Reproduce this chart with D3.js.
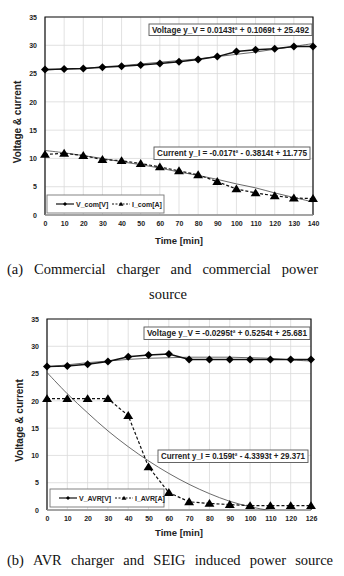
<!DOCTYPE html>
<html>
<head>
<meta charset="utf-8">
<script src="https://cdn.jsdelivr.net/npm/d3@7"></script>
<style>
  body { margin: 0; background: #fff; }
  svg { display: block; }
  .tick text { font-family: 'Liberation Sans', Arial, sans-serif; font-weight: bold; font-size: 7px; fill: #222; }
  .lbl { font-family: 'Liberation Sans', Arial, sans-serif; font-weight: bold; fill: #222; }
  .cap { font-family: 'Liberation Serif', 'DejaVu Serif', 'Times New Roman', serif; font-size: 14.5px; fill: #111; }
</style>
</head>
<body>
<svg id="chart" width="344" height="576"></svg>
<script>
// ---- data (a) commercial charger ----
const timeA = ['0', '10', '20', '30', '40', '50', '60', '70', '80', '90', '100', '110', '120', '130', '140'];
const voltA = [25.7, 25.8, 25.9, 26.1, 26.3, 26.5, 26.8, 27.1, 27.5, 28.0, 28.9, 29.2, 29.4, 29.8, 29.8];
const currA = [10.7, 10.9, 10.5, 9.8, 9.6, 9.1, 8.5, 7.8, 7.1, 5.9, 4.6, 3.9, 3.4, 3.0, 2.9];
const voltTrendA = [25.6, 25.8, 25.9, 26.2, 26.4, 26.7, 27.0, 27.3, 27.6, 28.0, 28.4, 28.8, 29.3, 29.8, 30.3];
const currTrendA = [11.4, 11.0, 10.5, 10.0, 9.4, 8.9, 8.3, 7.6, 7.0, 6.3, 5.5, 4.8, 3.9, 3.1, 2.3];

// ---- data (b) AVR charger ----
const timeB = ['0', '10', '20', '30', '40', '50', '60', '70', '80', '90', '100', '110', '120', '126'];
const voltB = [26.3, 26.4, 26.7, 27.2, 28.1, 28.4, 28.6, 27.6, 27.6, 27.6, 27.6, 27.6, 27.6, 27.6];
const currB = [20.4, 20.4, 20.4, 20.4, 17.3, 7.9, 3.2, 1.5, 1.2, 1.0, 0.8, 0.8, 0.8, 0.8];
const voltTrendB = [26.2, 26.6, 27.0, 27.3, 27.6, 27.8, 27.9, 28.0, 28.0, 28.0, 27.9, 27.8, 27.5, 27.3];
const currTrendB = [25.2, 21.3, 17.8, 14.5, 11.6, 9.0, 6.7, 4.7, 3.0, 1.6, 0.6, -0.1, -0.5, -0.6];

const yTicks = [0, 5, 10, 15, 20, 25, 30, 35];

const svg = d3.select('#chart');

function diamond(r) {
  return `M0,${-r}L${r},0L0,${r}L${-r},0Z`;
}
function triangle(r) {
  return `M0,${-r}L${r * 1.1},${r * 0.75}L${-r * 1.1},${r * 0.75}Z`;
}

function drawChart(cfg) {
  const { id, box, time, volt, curr, voltTrend, currTrend, names, eqV, eqI } = cfg;
  const g = svg.append('g');

  const x = d3.scalePoint().domain(time).range([box.left, box.right]);
  const y = d3.scaleLinear().domain([0, 35]).range([box.bottom, box.top]);

  g.append('clipPath').attr('id', `clip${id}`)
    .append('rect')
    .attr('x', box.left).attr('y', box.top)
    .attr('width', box.right - box.left).attr('height', box.bottom - box.top);

  // grid
  g.append('g').selectAll('line').data(time).enter().append('line')
    .attr('x1', (d) => x(d)).attr('x2', (d) => x(d))
    .attr('y1', box.top).attr('y2', box.bottom)
    .attr('stroke', '#d9d9d9').attr('stroke-width', 0.8);
  g.append('g').selectAll('line').data(yTicks).enter().append('line')
    .attr('x1', box.left).attr('x2', box.right)
    .attr('y1', (d) => y(d)).attr('y2', (d) => y(d))
    .attr('stroke', '#d9d9d9').attr('stroke-width', 0.8);

  // axes
  g.append('g')
    .attr('transform', `translate(0,${box.bottom})`)
    .call(d3.axisBottom(x).tickSize(0).tickPadding(6))
    .call((a) => a.select('.domain').remove());
  g.append('g')
    .attr('transform', `translate(${box.left},0)`)
    .call(d3.axisLeft(y).tickValues(yTicks).tickSize(0).tickPadding(8))
    .call((a) => a.select('.domain').remove());

  // frame
  g.append('path')
    .attr('d', `M${box.left},${box.bottom}V${box.top}H${box.right}V${box.bottom}`)
    .attr('fill', 'none').attr('stroke', '#111').attr('stroke-width', 1.2);
  g.append('line')
    .attr('x1', box.left).attr('x2', box.right)
    .attr('y1', box.bottom).attr('y2', box.bottom)
    .attr('stroke', '#8c8c8c').attr('stroke-width', 1.6);

  const line = (arr) => d3.line()
    .x((d, i) => x(time[i]))
    .y((d) => y(d))(arr);
  const smooth = (arr) => d3.line()
    .x((d, i) => x(time[i]))
    .y((d) => y(d))
    .curve(d3.curveCatmullRom)(arr);

  const plot = g.append('g').attr('clip-path', `url(#clip${id})`);

  // trend lines
  plot.append('path').attr('d', smooth(voltTrend))
    .attr('fill', 'none').attr('stroke', '#444').attr('stroke-width', 0.8);
  plot.append('path').attr('d', smooth(currTrend))
    .attr('fill', 'none').attr('stroke', '#444').attr('stroke-width', 0.8);

  // data lines
  g.append('path').attr('d', line(volt))
    .attr('fill', 'none').attr('stroke', '#111').attr('stroke-width', 1.5);
  g.append('path').attr('d', line(curr))
    .attr('fill', 'none').attr('stroke', '#111').attr('stroke-width', 1.2)
    .attr('stroke-dasharray', '3,2');

  g.append('g').selectAll('path').data(volt).enter().append('path')
    .attr('transform', (d, i) => `translate(${x(time[i])},${y(d)})`)
    .attr('d', diamond(4))
    .attr('fill', '#000');
  g.append('g').selectAll('path').data(curr).enter().append('path')
    .attr('transform', (d, i) => `translate(${x(time[i])},${y(d)})`)
    .attr('d', triangle(4.5))
    .attr('fill', '#000');

  // equation boxes
  function eqBox(b, label) {
    g.append('rect')
      .attr('x', b.x).attr('y', b.y).attr('width', b.w).attr('height', b.h)
      .attr('fill', '#fff').attr('stroke', '#555').attr('stroke-width', 0.9);
    g.append('text').attr('class', 'lbl')
      .attr('x', b.x + 3).attr('y', b.y + b.h / 2 + 3)
      .attr('font-size', 8.2)
      .attr('textLength', b.w - 6).attr('lengthAdjust', 'spacingAndGlyphs')
      .text(label);
  }
  eqBox(eqV.box, eqV.label);
  eqBox(eqI.box, eqI.label);

  // legend
  const lg = cfg.legend;
  g.append('rect')
    .attr('x', lg.x).attr('y', lg.y).attr('width', lg.w).attr('height', lg.h)
    .attr('fill', '#fff').attr('stroke', '#777').attr('stroke-width', 0.9);
  const ly = lg.y + lg.h / 2;
  g.append('line').attr('x1', lg.x + 9).attr('x2', lg.x + 27)
    .attr('y1', ly).attr('y2', ly).attr('stroke', '#111').attr('stroke-width', 1.2);
  g.append('path').attr('transform', `translate(${lg.x + 18},${ly})`)
    .attr('d', diamond(2)).attr('fill', '#000');
  g.append('text').attr('class', 'lbl').attr('font-size', 7).attr('font-weight', 'normal')
    .attr('x', lg.x + 29).attr('y', ly + 2.5).text(names[0]);
  g.append('line').attr('x1', lg.x + 65).attr('x2', lg.x + 83)
    .attr('y1', ly).attr('y2', ly).attr('stroke', '#111').attr('stroke-width', 1)
    .attr('stroke-dasharray', '2,1.5');
  g.append('path').attr('transform', `translate(${lg.x + 74},${ly})`)
    .attr('d', triangle(2.2)).attr('fill', '#000');
  g.append('text').attr('class', 'lbl').attr('font-size', 7).attr('font-weight', 'normal')
    .attr('x', lg.x + 85).attr('y', ly + 2.5).text(names[1]);

  // axis titles
  g.append('text').attr('class', 'lbl').attr('font-size', 10)
    .attr('text-anchor', 'middle')
    .attr('transform', `translate(${box.left - 24},${(box.top + box.bottom) / 2 + 6}) rotate(-90)`)
    .text('Voltage & current');
  g.append('text').attr('class', 'lbl').attr('font-size', 9.5)
    .attr('text-anchor', 'middle')
    .attr('x', (box.left + box.right) / 2).attr('y', cfg.xTitleY)
    .text('Time [min]');
}

// justified caption line
function caption(text, x0, x1, yy) {
  const words = text.split(' ');
  const nodes = words.map((w) => svg.append('text').attr('class', 'cap').attr('y', yy).text(w));
  const widths = nodes.map((n) => n.node().getComputedTextLength());
  const gap = (x1 - x0 - d3.sum(widths)) / (words.length - 1);
  let cx = x0;
  nodes.forEach((n, i) => {
    n.attr('x', cx);
    cx += widths[i] + gap;
  });
}

drawChart({
  id: 'a',
  box: { left: 45, right: 313, top: 17, bottom: 215 },
  time: timeA, volt: voltA, curr: currA, voltTrend: voltTrendA, currTrend: currTrendA,
  names: ['V_com[V]', 'I_com[A]'],
  eqV: { box: { x: 149, y: 24, w: 163, h: 11.5 }, label: 'Voltage y_V = 0.0143t² + 0.1069t + 25.492' },
  eqI: { box: { x: 154, y: 147, w: 156, h: 12.5 }, label: 'Current y_I = -0.017t² - 0.3814t + 11.775' },
  legend: { x: 47, y: 195, w: 117, h: 18 },
  xTitleY: 244,
});

drawChart({
  id: 'b',
  box: { left: 47, right: 311, top: 319, bottom: 510 },
  time: timeB, volt: voltB, curr: currB, voltTrend: voltTrendB, currTrend: currTrendB,
  names: ['V_AVR[V]', 'I_AVR[A]'],
  eqV: { box: { x: 144, y: 327, w: 166, h: 12.5 }, label: 'Voltage y_V = -0.0295t² + 0.5254t + 25.681' },
  eqI: { box: { x: 158, y: 450, w: 150, h: 12.5 }, label: 'Current y_I = 0.159t² - 4.3393t + 29.371' },
  legend: { x: 50, y: 489, w: 114, h: 18 },
  xTitleY: 536,
});

caption('(a) Commercial charger and commercial power', 7, 318, 274);
svg.append('text').attr('class', 'cap').attr('x', 168).attr('y', 299)
  .attr('text-anchor', 'middle').text('source');
caption('(b) AVR charger and SEIG induced power source', 7, 333, 565);
</script>
</body>
</html>
